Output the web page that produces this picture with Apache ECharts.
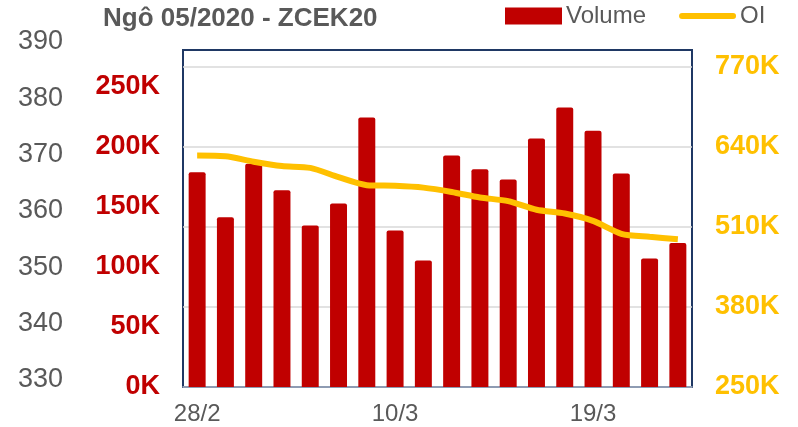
<!DOCTYPE html>
<html lang="vi">
<head>
    <meta charset="UTF-8">
    <title>Ngô 05/2020 - ZCEK20</title>
    <script src="https://cdn.jsdelivr.net/npm/echarts@6/dist/echarts.min.js"></script>
    <style>
        html, body { margin: 0; padding: 0; background: #fff; }
    </style>
</head>
<body>
    <div id="chart" style="width: 798px; height: 427px;"></div>
    <script>
        // du lieu
        var dates = ['28/2', '2/3', '3/3', '4/3', '5/3', '6/3', '9/3', '10/3', '11/3',
            '12/3', '13/3', '16/3', '17/3', '18/3', '19/3', '20/3', '23/3', '24/3']
        var volume = [179000, 141500, 186000, 164000, 134500, 153000, 224500, 130500, 105500,
            193000, 181500, 173000, 207000, 233000, 213500, 178000, 107000, 120000]
        var oi = [626000, 625000, 616000, 609000, 606000, 591000, 578000, 577000, 574000,
            567000, 558000, 552000, 538000, 532000, 520000, 499000, 494000, 490000]
        var priceTicks = [330, 390]   // truc gia (khong co series)

        var font = 'Liberation Sans, Arial, sans-serif'
        var grey = '#595959'

        var chart = echarts.init(document.getElementById('chart'))

        var option = {
            animation: false,
            textStyle: { fontFamily: font },
            title: {
                text: 'Ngô 05/2020 - ZCEK20',
                left: 103,
                top: 6,
                padding: 0,
                textStyle: { fontFamily: font, fontSize: 26, fontWeight: 'bold', color: grey }
            },
            legend: {
                left: 505,
                top: 4,
                padding: 0,
                itemWidth: 57,
                itemHeight: 17,
                itemGap: 33,
                symbolKeepAspect: true,
                textStyle: { fontFamily: font, fontSize: 24, color: grey, padding: [0, 0, 0, -1] },
                data: [
                    { name: 'Volume', icon: 'rect' },
                    // thanh ngang bo tron thay cho duong line
                    { name: 'OI', icon: 'path://M3,0 L54,0 A3,3 0 0 1 54,6 L3,6 A3,3 0 0 1 3,0 Z' }
                ]
            },
            grid: [
                {
                    left: 183, right: 106, top: 50, bottom: 40,
                    show: true, borderColor: '#1F3864', borderWidth: 2
                },
                { left: 70, width: 10, top: 42, bottom: 47 }
            ],
            xAxis: [
                {
                    type: 'category',
                    data: dates,
                    gridIndex: 0,
                    axisTick: { show: false },
                    axisLine: { lineStyle: { color: '#B4BCCB', width: 1.5 } },
                    axisLabel: { interval: 6, margin: 15, fontSize: 24, color: grey, fontFamily: font }
                },
                { type: 'category', gridIndex: 1, show: false, data: [''] }
            ],
            yAxis: [
                {
                    type: 'value',
                    gridIndex: 0,
                    position: 'left',
                    min: 0,
                    max: 280833,
                    interval: 50000,
                    splitLine: { show: false },
                    axisLine: { show: false },
                    axisTick: { show: false },
                    axisLabel: {
                        showMaxLabel: false,
                        margin: 23,
                        fontSize: 27,
                        fontWeight: 'bold',
                        color: '#C00000',
                        fontFamily: font,
                        formatter: function (v) { return v / 1000 + 'K' }
                    }
                },
                {
                    type: 'value',
                    gridIndex: 0,
                    position: 'right',
                    min: 250000,
                    max: 797625,
                    interval: 130000,
                    splitLine: {
                        show: true, showMinLine: false, showMaxLine: false,
                        lineStyle: { color: '#D9D9D9', width: 1.5 }
                    },
                    axisLine: { show: false },
                    axisTick: { show: false },
                    axisLabel: {
                        showMaxLabel: false,
                        margin: 23,
                        fontSize: 27,
                        fontWeight: 'bold',
                        color: '#FFC000',
                        fontFamily: font,
                        formatter: function (v) { return v / 1000 + 'K' }
                    }
                },
                {
                    type: 'value',
                    gridIndex: 1,
                    position: 'left',
                    min: priceTicks[0],
                    max: priceTicks[1],
                    interval: 10,
                    splitLine: { show: false },
                    axisLine: { show: false },
                    axisTick: { show: false },
                    axisLabel: { margin: 7, fontSize: 27, color: grey, fontFamily: font }
                }
            ],
            series: [
                {
                    name: 'Volume',
                    type: 'bar',
                    xAxisIndex: 0,
                    yAxisIndex: 0,
                    data: volume,
                    barCategoryGap: '40%',
                    itemStyle: { color: '#C00000', borderRadius: [2, 2, 0, 0] }
                },
                {
                    name: 'OI',
                    type: 'line',
                    xAxisIndex: 0,
                    yAxisIndex: 1,
                    data: oi,
                    smooth: 0.25,
                    symbol: 'none',
                    lineStyle: { color: '#FFC000', width: 6 },
                    itemStyle: { color: '#FFC000' },
                    z: 3
                }
            ]
        }

        chart.setOption(option)
    </script>
</body>
</html>
